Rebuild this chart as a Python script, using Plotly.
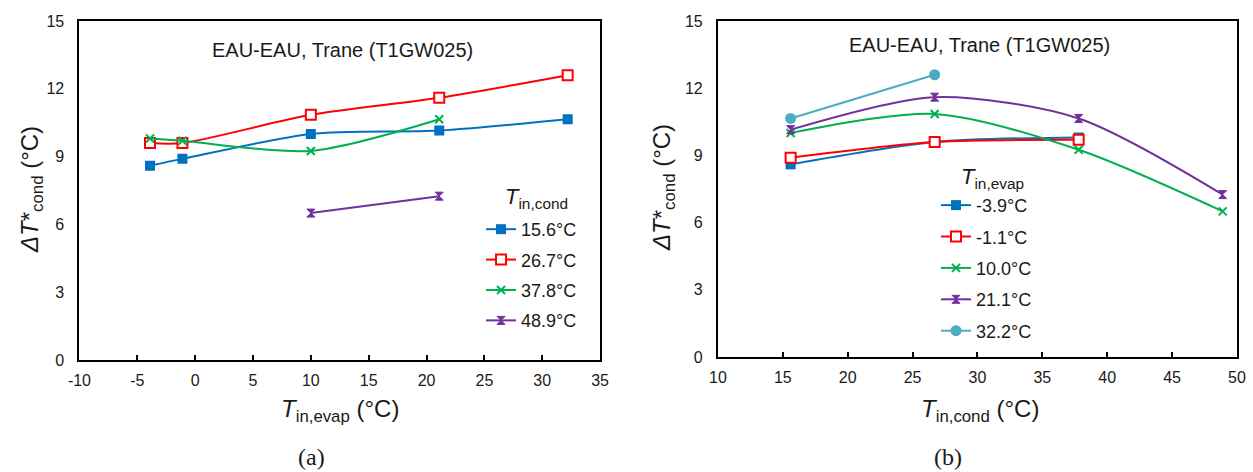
import plotly.graph_objects as go

# ---- data ----
t_evap = [-3.9, -1.1, 10.0, 21.1, 32.2]          # evaporator inlet temperatures (°C)
t_cond = [15.6, 26.7, 37.8, 48.9]                # condenser inlet temperatures (°C)

# dT*_cond values, one list per condenser inlet temperature (over t_evap)
dT_c156 = [8.6, 8.9, 10.0, 10.15, 10.65]
dT_c267 = [9.6, 9.6, 10.85, 11.6, 12.6]
dT_c378 = [9.8, 9.7, 9.25, 10.65, None]
dT_c489 = [None, None, 6.5, 7.25, None]

# dT*_cond values, one list per evaporator inlet temperature (over t_cond)
dT_e39m = [8.6, 9.6, 9.8, None]
dT_e11m = [8.9, 9.6, 9.7, None]
dT_e100 = [10.0, 10.85, 9.25, 6.5]
dT_e211 = [10.15, 11.6, 10.65, 7.25]
dT_e322 = [10.65, 12.6, None, None]

cond_labels = ["15.6°C", "26.7°C", "37.8°C", "48.9°C"]
evap_labels = ["-3.9°C", "-1.1°C", "10.0°C", "21.1°C", "32.2°C"]
y_ticks = [0, 3, 6, 9, 12, 15]
x1_ticks = [-10, -5, 0, 5, 10, 15, 20, 25, 30, 35]
x1_ticktext = ["-10", "-5", "0", "5", "10", "15", "20", "25", "30", "35"]
x2_ticks = [10, 15, 20, 25, 30, 35, 40, 45, 50]

BLUE, RED, GREEN, PURPLE, CYAN = "#0070C0", "#FF0000", "#00B050", "#7030A0", "#4BACC6"
styles = [
    dict(color=BLUE, symbol="square", size=10, fill=BLUE, lw=0),
    dict(color=RED, symbol="square", size=10, fill="white", lw=2),
    dict(color=GREEN, symbol="x-thin-open", size=8, fill=GREEN, lw=2),
    dict(color=PURPLE, symbol="hourglass", size=8, fill=PURPLE, lw=1),
    dict(color=CYAN, symbol="circle", size=11, fill=CYAN, lw=0),
]

FONT = "Liberation Sans, Arial, sans-serif"
TXT = "#1a1a1a"
fig = go.Figure()

def add(x, y, st, name, xa, ya, leg, grp):
    mk = dict(symbol=st["symbol"], size=st["size"], color=st["fill"],
              line=dict(color=st["color"], width=st["lw"]))
    fig.add_trace(go.Scatter(
        x=x, y=y, mode="lines+markers", name=name,
        line=dict(color=st["color"], width=2, shape="spline", smoothing=0.8),
        marker=mk, xaxis=xa, yaxis=ya, legend=leg, legendgroup=grp,
        connectgaps=False))

left_sets = [dT_c156, dT_c267, dT_c378, dT_c489]
for i, (vals, lab) in enumerate(zip(left_sets, cond_labels)):
    add(t_evap, vals, styles[i], lab, "x", "y", "legend", "a%d" % i)

right_sets = [dT_e39m, dT_e11m, dT_e100, dT_e211, dT_e322]
for i, (vals, lab) in enumerate(zip(right_sets, evap_labels)):
    add(t_cond, vals, styles[i], lab, "x2", "y2", "legend2", "b%d" % i)

axis_common = dict(showline=True, linecolor="black", linewidth=2, mirror=True,
                   showgrid=False, zeroline=False, automargin=False,
                   tickfont=dict(family=FONT, size=16, color=TXT))

fig.update_layout(
    template="none",
    width=1253, height=472, margin=dict(l=0, r=0, t=0, b=0, pad=0),
    paper_bgcolor="white", plot_bgcolor="white",
    xaxis=dict(domain=[0.0634, 0.4789], range=[-10, 35],
               tickvals=x1_ticks, ticktext=x1_ticktext,
               ticks="inside", ticklen=5, tickwidth=1.5, tickcolor="black",
               ticklabelstandoff=5, anchor="y", **axis_common),
    yaxis=dict(domain=[0.2373, 0.9555], range=[0, 15], tickvals=y_ticks,
               ticks="", ticklabelstandoff=10, anchor="x", **axis_common),
    xaxis2=dict(domain=[0.5730, 0.9872], range=[10, 50], tickvals=x2_ticks,
                ticks="inside", ticklen=5, tickwidth=1.5, tickcolor="black",
                ticklabelstandoff=5, anchor="y2", **axis_common),
    yaxis2=dict(domain=[0.2436, 0.9555], range=[0, 15], tickvals=y_ticks,
                ticks="", ticklabelstandoff=10, anchor="x2", **axis_common),
    legend=dict(x=0.3839, y=0.5530, xanchor="left", yanchor="top",
                bgcolor="rgba(0,0,0,0)", traceorder="grouped", tracegroupgap=4,
                font=dict(family=FONT, size=18, color=TXT)),
    legend2=dict(x=0.7470, y=0.6040, xanchor="left", yanchor="top",
                 bgcolor="rgba(0,0,0,0)", traceorder="grouped", tracegroupgap=5,
                 font=dict(family=FONT, size=18, color=TXT)),
    showlegend=True,
)

def ann(text, x, y, size, family=FONT, angle=0):
    fig.add_annotation(text=text, x=x / 1253, y=1 - y / 472, xref="paper", yref="paper",
                       showarrow=False, xanchor="center", yanchor="middle", textangle=angle,
                       font=dict(family=family, size=size, color=TXT))

ann("EAU-EAU, Trane (T1GW025)", 342, 50, 20)
ann("EAU-EAU, Trane (T1GW025)", 980, 45, 20)
ann("<i>T</i><sub>in,cond</sub>", 536, 198, 22)
ann("<i>T</i><sub>in,evap</sub>", 992, 178, 22)
ann("<i>T</i><sub>in,evap</sub> (°C)", 340, 410, 24)
ann("<i>T</i><sub>in,cond</sub> (°C)", 980, 410, 24)
ann("<i>ΔT</i>*<sub>cond</sub> (°C)", 31, 190, 24, angle=-90)
ann("<i>ΔT</i>*<sub>cond</sub> (°C)", 663, 188, 24, angle=-90)
ann("(a)", 311, 457, 24, family="Liberation Serif, Times New Roman, serif")
ann("(b)", 948, 457, 24, family="Liberation Serif, Times New Roman, serif")

fig.write_html("out.html", config={"displayModeBar": False},
               post_script="document.body.style.margin='0';document.body.style.overflow='hidden';")
